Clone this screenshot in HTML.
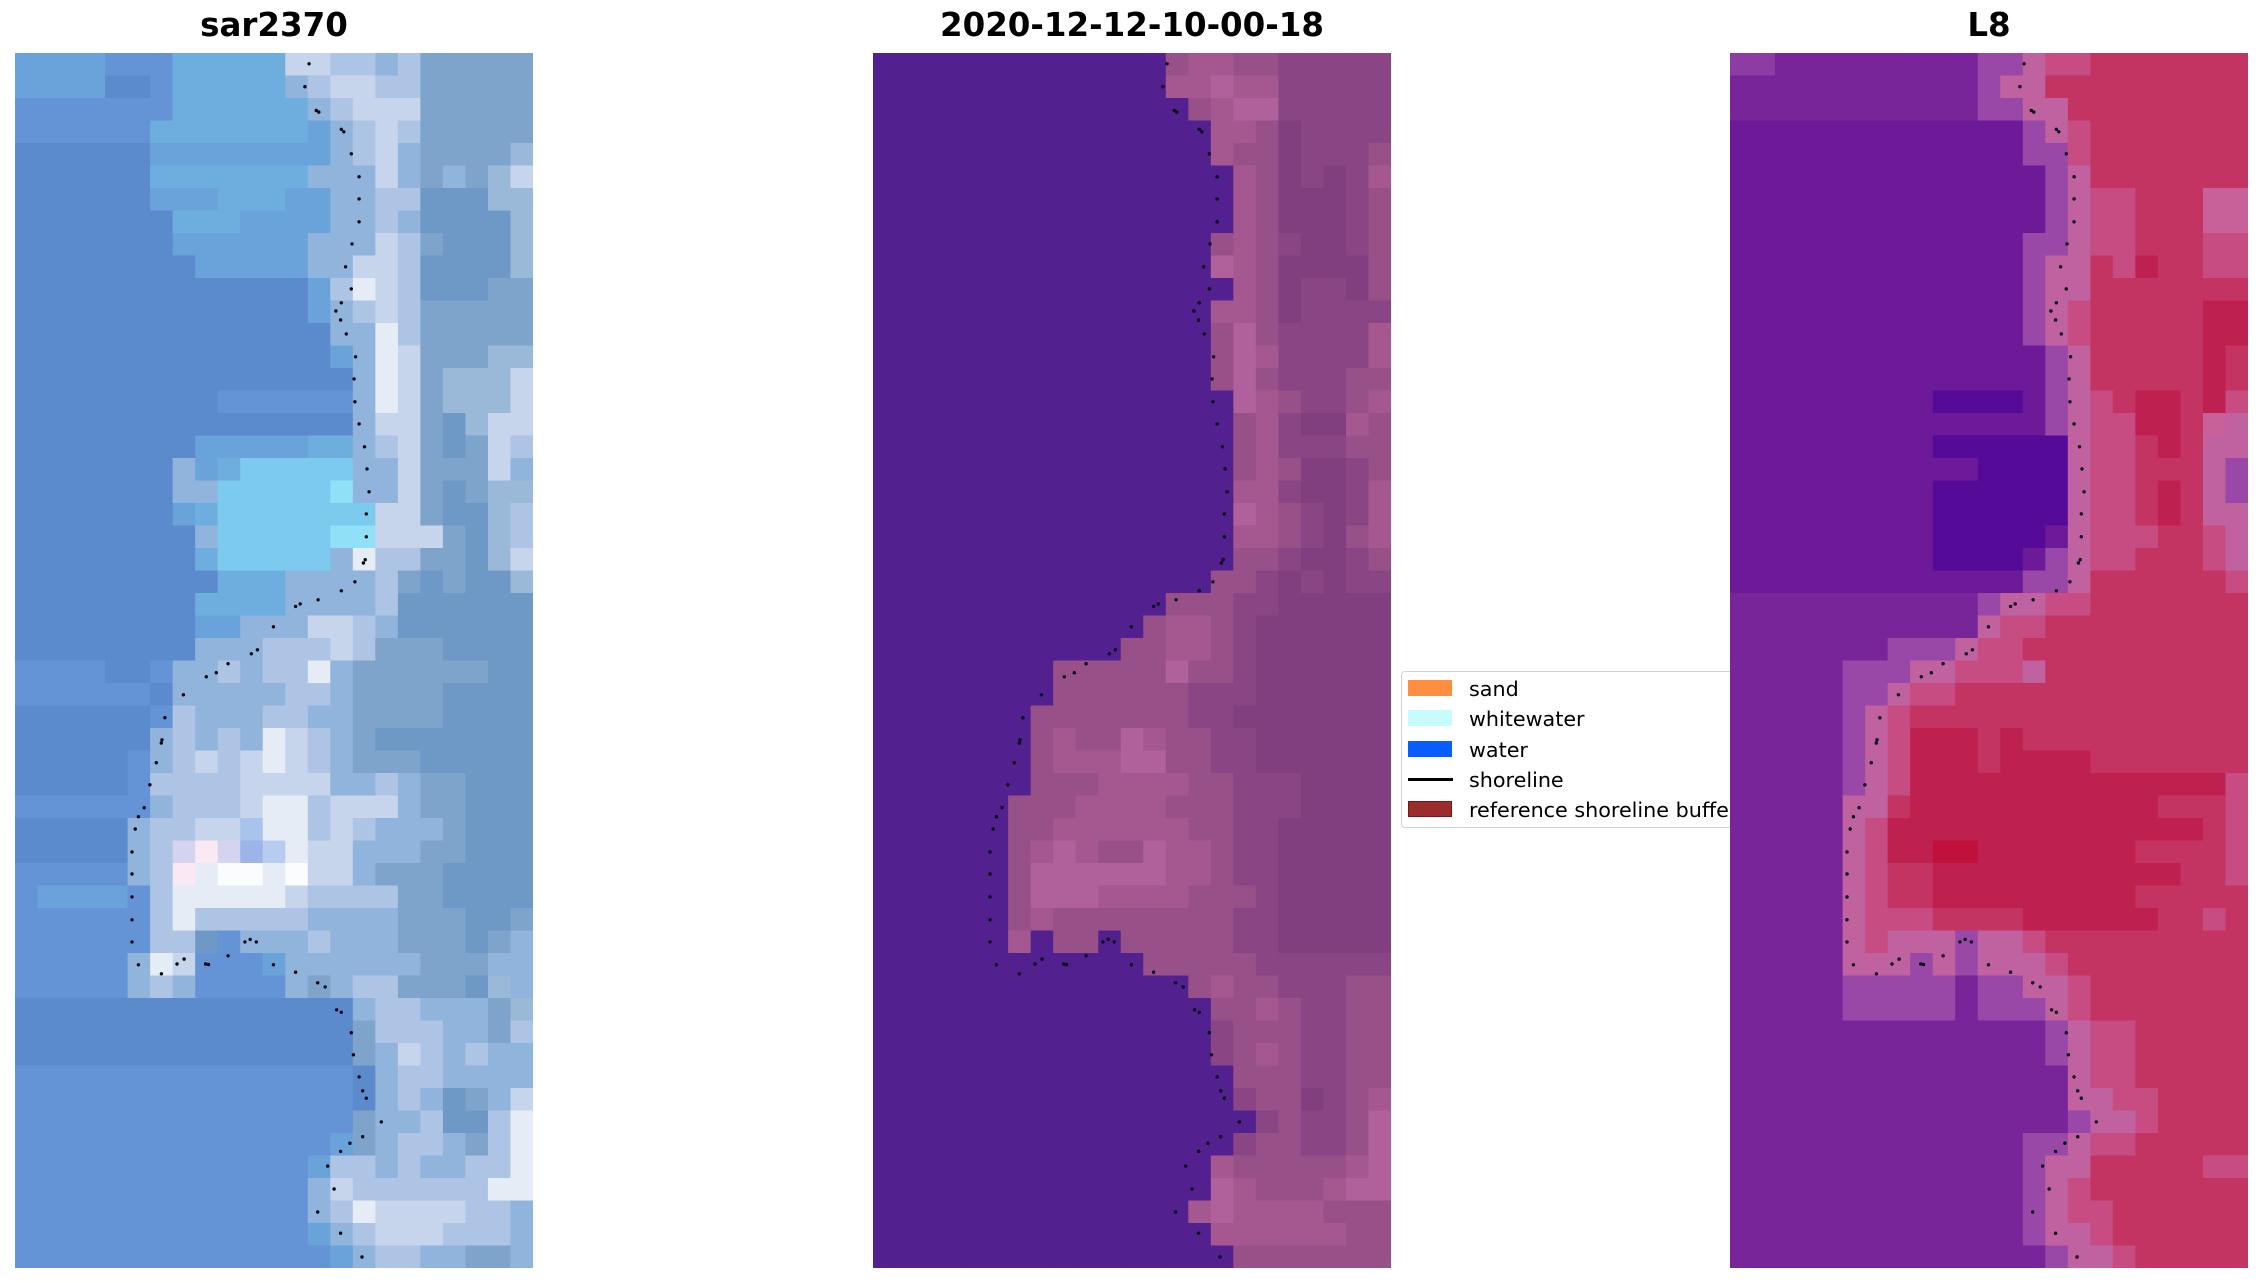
<!DOCTYPE html>
<html>
<head>
<meta charset="utf-8">
<style>
  html, body { margin:0; padding:0; background:#ffffff; }
  #root { position:relative; width:2262px; height:1283px; overflow:hidden; background:#fff; font-family:"DejaVu Sans","Liberation Sans",sans-serif; }
  .title { position:absolute; top:0; height:52px; font-weight:bold; font-size:32.5px; line-height:1; text-align:center; color:#000; white-space:nowrap; }
  .title span { position:absolute; left:0; right:0; top:9px; }
  .panel { position:absolute; top:53px; width:518px; height:1215px; }
  .panel svg { position:absolute; left:0; top:0; }
  #legend { position:absolute; left:1401px; top:671px; width:380px; height:157px; background:#fff; border:1.5px solid #d2d2d2; border-radius:4px; box-sizing:border-box; }
  .lg-patch { position:absolute; left:6px; width:44px; height:16px; box-sizing:border-box; }
  .lg-text { position:absolute; left:67px; font-size:20.7px; line-height:1; color:#000; white-space:nowrap; }
</style>
</head>
<body>
<div id="root">
  <div class="title" style="left:15px;width:518px;"><span>sar2370</span></div>
  <div class="title" style="left:873px;width:518px;"><span>2020-12-12-10-00-18</span></div>
  <div class="title" style="left:1730px;width:518px;"><span>L8</span></div>

  <div class="panel" id="p1" style="left:15px;background:#5f8fd0;"></div>
  <div class="panel" id="p2" style="left:873px;background:#52218f;"></div>

  <div id="legend">
    <div class="lg-patch" style="top:8px;background:#ff8f40;"></div>
    <div class="lg-text" style="top:7px;">sand</div>
    <div class="lg-patch" style="top:38px;background:#c8fbfb;"></div>
    <div class="lg-text" style="top:37px;">whitewater</div>
    <div class="lg-patch" style="top:69px;background:#0a5cff;"></div>
    <div class="lg-text" style="top:68px;">water</div>
    <div style="position:absolute;left:6px;top:106px;width:45px;height:3px;background:#000;"></div>
    <div class="lg-text" style="top:98px;">shoreline</div>
    <div class="lg-patch" style="top:129px;background:#9a2c2c;border:1.5px solid #781414;"></div>
    <div class="lg-text" style="top:128px;">reference shoreline buffer</div>
  </div>

  <div class="panel" id="p3" style="left:1730px;background:#74219a;"></div>
</div>

<script>
(function(){
  var pal1 = {a:'#5b8bcc', b:'#6494d6', c:'#6aa2da', d:'#6eaede', e:'#7ccbee', f:'#90e0f8', g:'#90b4dc', h:'#aec4e4', i:'#c6d4ec', j:'#e6ecf6', W:'#fafcfd', k:'#7ea4cc', l:'#6e98c6', m:'#9ab8d8', n:'#a8c4ec', o:'#d4d4f0', p:'#fae8f2', q:'#9cb4e8', r:'#b8ccf0'};
  var map1 = [
    "c4 b3 d5 i2 h2 g1 h1 k5",
    "c4 a2 b1 d5 g1 h1 i2 h2 k5",
    "b7 d6 g1 h1 i2 i1 k5",
    "b6 d7 c1 g1 h1 i1 h1 k5",
    "a6 c7 c1 g1 h1 i1 g1 k4 m1",
    "a6 d7 g2 g1 i1 g1 k1 g1 k1 m1 i1",
    "a6 c3 d3 c2 g2 h2 l3 m2",
    "a7 d3 c3 c1 g2 h1 g1 l4 m1",
    "a7 c6 g3 i1 h1 k1 l3 m1",
    "a8 c5 g2 i2 h1 l4 m1",
    "a13 c1 h1 j1 i1 h1 l3 k2",
    "a13 c1 g1 h1 i1 h1 k5",
    "a14 g2 j1 h1 k5",
    "a14 c1 g1 j1 i1 k3 m2",
    "a15 g1 j1 i1 k1 m3 i1",
    "a9 b6 g1 j1 i1 k1 m3 i1",
    "a15 g1 i2 k1 l1 m1 i2",
    "a8 c5 d2 g1 h1 i1 k1 l1 k1 i1 h1",
    "a7 g1 c1 d1 e5 g2 i1 k3 i1 g1",
    "a7 g2 e5 f1 g2 i1 k1 l1 k1 m2",
    "a7 c1 d1 e7 i2 k1 l2 m1 h1",
    "a8 g1 e5 f2 i3 k1 l1 m1 h1",
    "a8 d1 e5 g1 j1 h2 k2 l1 m1 i1",
    "a9 d3 g4 h1 k1 l1 k1 l2 m1",
    "a8 d4 g4 h1 l6",
    "a8 c2 g3 i2 h1 g1 l6",
    "a8 g3 h3 i1 h1 k3 l4",
    "b4 a2 b1 g2 h1 g1 h2 j1 g1 k6 l2",
    "b6 a1 g5 h2 g1 k4 l4",
    "a6 b1 h1 g3 h2 g2 k4 l4",
    "a6 g1 h1 g1 h1 g1 j1 i1 h1 g1 k1 l7",
    "a5 b1 g1 h1 i1 h1 i1 j1 i1 h1 g1 k3 l5",
    "a5 b1 h4 i4 g2 h1 g1 k2 l3",
    "b6 g1 h3 i1 j2 h1 i3 g1 k2 l3",
    "a5 g1 h2 i2 n1 j2 h1 i1 h1 g3 k1 l3",
    "a5 g1 h1 o1 p1 o1 q1 r1 j1 i2 g3 k2 l3",
    "b5 g1 h1 p1 j1 W2 j1 W1 i2 g1 k3 l4",
    "b1 c4 b1 h1 j5 i1 h4 k2 l4",
    "b6 h1 j1 h5 g4 k3 l2 k1",
    "b6 h2 l1 b1 g3 h1 g3 k3 l1 k1 g1",
    "b5 g1 j1 i1 b3 c1 g6 k3 g2",
    "b5 g1 h1 g1 b4 g1 k1 g1 h2 k3 l1 m1 g1",
    "a15 g1 h2 g3 k1 m1",
    "a15 k1 h3 g2 k1 h1",
    "a15 k1 g1 i1 h1 g1 h1 g2",
    "b15 a1 g1 h2 g4",
    "b15 a1 g1 h1 g1 l1 k1 g1 i1",
    "b15 k1 g2 h1 l2 h1 j1",
    "b14 c1 k1 g1 h2 g1 k1 h1 j1",
    "b13 c1 h2 g1 h1 g2 h2 j1",
    "b13 g1 i1 h6 j2",
    "b13 g1 h1 j1 i4 h2 g1",
    "b13 c1 g1 h1 i3 h3 g1",
    "b14 c1 g1 h2 g2 k2 g1"
  ];

  var pal2 = {w:'#52218f', A:'#b0609a', B:'#a4588f', C:'#985089', D:'#8a4584', E:'#823f7f'};
  var map2 = [
    "w13 C1 B2 C2 D5",
    "w13 B2 A1 B2 D5",
    "w14 C1 B1 A2 D5",
    "w15 B2 C1 E1 D4",
    "w15 B1 C2 E1 D3 C1",
    "w16 B1 C1 E1 D1 E1 D1 B1",
    "w16 B1 C1 E3 D1 C1",
    "w16 B1 C1 E3 D1 C1",
    "w15 C1 B1 C1 D1 E2 D1 C1",
    "w15 A1 B1 C1 E4 C1",
    "w16 B1 C1 E1 D2 E1 C1",
    "w15 B2 C1 E1 D4",
    "w15 C1 A1 C1 D4 B1",
    "w15 C1 A1 B1 D4 B1",
    "w15 C1 A1 C1 D3 C2",
    "w16 A1 B1 C1 D2 C1 B1",
    "w16 C1 B1 D1 E2 B1 C1",
    "w16 C1 B1 D3 C2",
    "w16 C1 B1 C1 E2 D1 C1",
    "w16 B2 D1 E2 D1 B1",
    "w16 A1 B1 C1 D1 E1 D1 B1",
    "w16 B2 C1 D1 E1 C1 B1",
    "w16 C2 D1 E2 D1 C1",
    "w15 C2 D1 E1 D1 E1 D2",
    "w13 C3 D2 E5",
    "w12 C1 B2 C1 D1 E6",
    "w11 C2 B2 C1 D1 E6",
    "w8 C5 A1 C2 D1 E6",
    "w8 C6 D3 E6",
    "w7 C7 D2 E7",
    "w7 C1 B1 C2 A1 B1 C2 D2 E6",
    "w7 C1 B3 A2 C2 D2 E6",
    "w7 C3 B4 C2 D3 E4",
    "w6 C3 B4 C3 D3 E4",
    "w6 C2 B6 C2 D2 E5",
    "w6 C1 B1 A1 B1 C2 A1 B2 C1 D2 E5",
    "w6 C1 A6 B2 C1 D2 E5",
    "w6 C1 A3 B4 C3 D1 E5",
    "w6 C1 B1 C8 D2 E5",
    "w6 B1 w1 C2 w1 C5 D2 E5",
    "w12 C5 D6",
    "w14 C1 B1 C2 D3 C2",
    "w15 C2 B1 C1 D2 C2",
    "w15 D1 C3 D2 C2",
    "w15 D1 C1 B1 C1 D2 C2",
    "w16 C3 D2 C2",
    "w16 D1 C2 E1 D1 C1 B1",
    "w17 D1 C1 D2 C1 A1",
    "w16 D1 C2 D2 C1 A1",
    "w15 B1 C5 B1 A1",
    "w15 A1 B1 C3 B1 A2",
    "w14 B1 A1 B4 C3",
    "w15 B6 C2",
    "w16 C7"
  ];

  var pal3 = {O:'#8c3ca2', P:'#78259a', Q:'#6c1a98', R:'#560a98', S:'#9a48a8', T:'#c062a0', U:'#c64c82', V:'#c43462', X:'#be2050', Y:'#c8609a', Z:'#c0103c'};
  var map3 = [
    "O2 P9 S2 T1 U2 V7",
    "P11 S1 T2 V9",
    "P11 S2 T2 V8",
    "Q13 S1 T1 U1 V7",
    "Q13 S2 U1 V7",
    "Q14 S1 T1 V7",
    "Q14 S1 T1 U2 V3 Y2",
    "Q14 S1 T1 U2 V3 Y2",
    "Q13 S2 T1 U2 V3 U2",
    "Q13 S1 T2 V1 U1 X1 V2 U2",
    "Q13 S1 T2 V7",
    "Q13 S1 T1 U1 V5 X2",
    "Q13 S1 T1 U1 V5 X2",
    "Q14 S1 T1 V5 X1 V1",
    "Q14 S1 T1 V5 X1 V1",
    "Q9 R4 Q1 S1 T1 U1 V1 X2 V1 X1 U1",
    "Q14 S1 T1 U2 X2 V1 Y1 T1",
    "Q9 R6 T1 U2 V1 X1 V1 T2",
    "Q11 R4 T1 U2 V3 T1 S1",
    "Q9 R6 T1 U2 V1 X1 V1 T1 S1",
    "Q9 R6 T1 U2 V1 X1 V1 T2",
    "Q9 R5 Q1 T1 U3 V2 U1 T1",
    "Q9 R4 Q1 S1 T1 U2 V3 U1 T1",
    "Q13 S2 T1 V6 U1",
    "P11 S1 T2 U2 V7",
    "P11 T1 U2 V9",
    "P7 S3 T1 U2 V10",
    "P5 S3 T2 U3 T1 V9",
    "P5 S2 T1 U2 V13",
    "P5 S1 T1 U1 V15",
    "P5 S1 T1 U1 X3 V1 X1 V10",
    "P5 S1 T1 U1 X3 V1 X4 V7",
    "P5 S1 T1 U1 X14 U1",
    "P5 T2 V1 X11 V3 U1",
    "P5 T1 U1 X14 V1 U1",
    "P5 T1 U1 X2 Z2 X7 V4 U1",
    "P5 T1 U1 V2 X11 V2 U1",
    "P5 T1 U1 V2 X9 V5",
    "P5 T1 U3 V4 X6 V2 U1 V1",
    "P5 T1 U1 T3 S1 T2 U1 V9",
    "P5 T3 S1 T1 S1 T3 U1 V8",
    "P5 S5 P1 S2 T2 U1 V7",
    "P5 S5 P1 S3 T1 U1 V7",
    "P14 S1 T1 U2 V5",
    "P14 S1 T1 U2 V5",
    "P15 T1 U2 V5",
    "P15 T2 U2 V4",
    "P15 S1 T2 U1 V4",
    "P13 S2 T1 U2 V5",
    "P13 S1 T2 V5 U2",
    "P13 S1 T1 U1 V7",
    "P13 S1 T1 U2 V6",
    "P13 S1 T2 U1 V6",
    "P14 S1 T2 U1 V5"
  ];

  var dots = [
    [294.1,10.8],[289.9,33.7],[301.3,57.5],[303.8,59.1],[326.3,76.3],[328.8,78.8],[336.3,100.8],
    [344.1,123.8],[344.1,145.9],[344.1,168.8],[337,190.9],[330.6,213.8],[336.3,235.9],[326.3,249.8],
    [320.9,258],[325.6,267],[331.3,280.9],[340.6,303.8],[339.1,325.9],[339.9,348.8],[344.1,370.9],
    [349.5,393.8],[352,415.9],[354.1,438.8],[351.3,460.9],[351.3,483.8],[350.2,506.7],[348.4,510],
    [339.9,528.8],[326.3,537.8],[303.1,546.8],[285.2,550.9],[280.6,553.4],[258.4,573.8],[242.4,596.8],
    [236.3,600.8],[213.1,610.7],[201.3,619.7],[191.3,623.8],[168.4,641.8],[149.9,664.7],[147,686.8],
    [146.3,690],[141.3,709.7],[134.9,731.8],[129.1,754.7],[123.4,763.7],[120.2,776],[117,798.9],[117,821],
    [117,843.9],[117,866.8],[117,888.9],[123.4,911.8],[146.4,920.8],[162,911],[169.1,906.1],[190.6,911],
    [193.5,911.5],[213.1,902.8],[229.9,888.9],[235.2,886.4],[241.3,888.9],[258.4,911.8],[280.6,919.2],
    [302.7,929.8],[310.2,933.9],[321.6,956.8],[326.3,959.3],[336.3,979.7],[338.4,1001.8],[344.1,1023.9],
    [347.7,1037.8],[351.3,1045.2],[366.3,1068.9],[347.7,1083.7],[334.9,1090.2],[325.6,1098.4],
    [312.7,1113.1],[319.1,1136],[302.7,1159],[325.6,1180.2],[347,1204]
  ];

  function build(id, map, pal){
    var W = 518, H = 1215, cw = W/23, ch = H/54;
    var s = '<svg xmlns="http://www.w3.org/2000/svg" width="'+W+'" height="'+H+'" viewBox="0 0 '+W+' '+H+'">';
    for (var r = 0; r < map.length; r++){
      var re = /([A-Za-z])(\d+)/g, m, c = 0, last = null;
      while ((m = re.exec(map[r])) !== null){
        var n = parseInt(m[2],10), col = pal[m[1]] || '#888';
        last = col;
        for (var k = 0; k < n && c < 23; k++, c++){
          s += '<rect x="'+(c*cw).toFixed(2)+'" y="'+(r*ch).toFixed(2)+'" width="'+(cw+0.6).toFixed(2)+'" height="'+(ch+0.6).toFixed(2)+'" fill="'+col+'"/>';
        }
      }
      while (c < 23 && last){
        s += '<rect x="'+(c*cw).toFixed(2)+'" y="'+(r*ch).toFixed(2)+'" width="'+(cw+0.6).toFixed(2)+'" height="'+(ch+0.6).toFixed(2)+'" fill="'+last+'"/>';
        c++;
      }
    }
    for (var d = 0; d < dots.length; d++){
      s += '<circle cx="'+dots[d][0]+'" cy="'+dots[d][1]+'" r="1.7" fill="#050510"/>';
    }
    s += '</svg>';
    document.getElementById(id).innerHTML = s;
  }
  build('p1', map1, pal1);
  build('p2', map2, pal2);
  build('p3', map3, pal3);
})();
</script>
</body>
</html>
